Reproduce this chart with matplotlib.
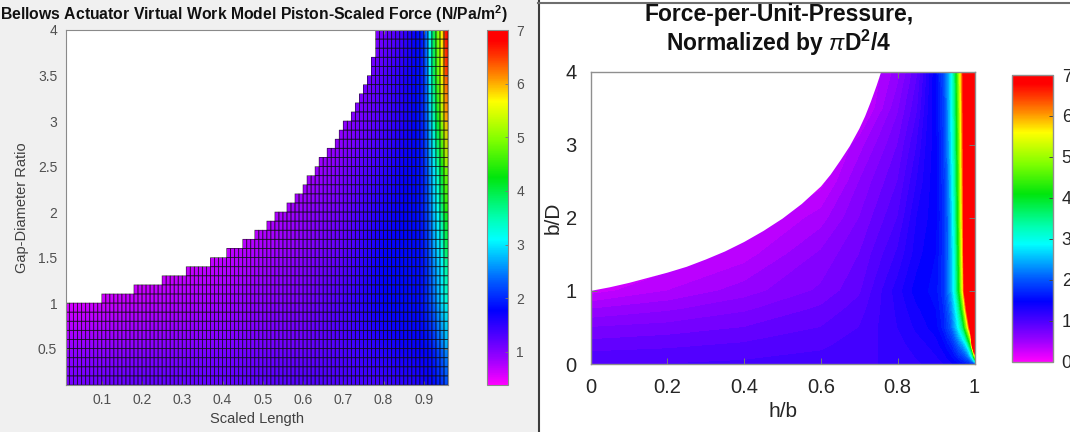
import numpy as np
import matplotlib
matplotlib.use("Agg")
import matplotlib.pyplot as plt
from matplotlib.colors import LinearSegmentedColormap, ListedColormap, Normalize
from matplotlib.cm import ScalarMappable
from matplotlib.patches import Polygon, Rectangle
from matplotlib.lines import Line2D

plt.rcParams['font.family'] = ['Liberation Sans', 'DejaVu Sans']
plt.rcParams['mathtext.fontset'] = 'custom'
plt.rcParams['mathtext.rm'] = 'Liberation Sans'
plt.rcParams['mathtext.it'] = 'Liberation Sans:italic'
plt.rcParams['mathtext.bf'] = 'Liberation Sans:bold'

# ---- colour ramp (position in colour range, RGB) ----
RAMP_POS = [0.0, 0.07, 0.14, 0.21, 0.29, 0.41, 0.47, 0.585, 0.69, 0.80, 0.87, 0.93, 0.97, 1.0]
RAMP_RGB = [(1, 0, 1), (0.62, 0, 1), (0.3, 0, 1), (0, 0, 1), (0, 0.35, 1), (0, 1, 1),
            (0, 1, 0.7), (0, 0.9, 0.05), (0.5, 1, 0), (1, 1, 0), (1, 0.55, 0),
            (1, 0.2, 0), (1, 0, 0), (1, 0, 0)]

# ---- left panel: piston-scaled force sampled over scaled length / gap-diameter ratio ----
LEFT_X = [0.01, 0.2, 0.4, 0.6, 0.7, 0.8, 0.85, 0.88, 0.895, 0.905, 0.915, 0.925, 0.935, 0.945, 0.955, 0.96]
LEFT_Y = [0.1, 0.5, 1.0, 1.5, 2.0, 2.5, 3.0, 3.5, 4.0]
LEFT_F_010 = [1.09, 1.20, 1.20, 1.28, 1.32, 1.38, 1.50, 1.56, 1.60, 1.64, 1.70, 1.80, 1.88, 2.00, 2.13, 2.13]
LEFT_F_050 = [0.90, 0.97, 1.04, 1.14, 1.30, 1.55, 1.68, 1.72, 1.76, 1.80, 1.85, 1.99, 2.18, 2.37, 2.60, 2.60]
LEFT_F_100 = [0.57, 0.71, 0.85, 1.04, 1.32, 1.75, 1.82, 1.82, 1.86, 1.99, 2.18, 2.37, 2.65, 2.93, 3.20, 3.20]
LEFT_F_150 = [0.45, 0.50, 0.68, 0.97, 1.22, 1.75, 1.82, 1.82, 1.86, 1.99, 2.27, 2.60, 2.84, 3.10, 3.70, 3.70]
LEFT_F_200 = [0.45, 0.45, 0.50, 0.90, 1.12, 1.60, 1.76, 1.82, 1.90, 2.08, 2.37, 2.80, 3.10, 3.70, 4.35, 4.35]
LEFT_F_250 = [0.45, 0.45, 0.45, 0.75, 1.04, 1.45, 1.70, 1.80, 1.90, 2.13, 2.60, 2.98, 3.50, 4.26, 5.00, 5.00]
LEFT_F_300 = [0.45, 0.45, 0.45, 0.60, 0.90, 1.32, 1.58, 1.80, 1.95, 2.18, 2.74, 3.40, 4.16, 5.10, 5.96, 5.96]
LEFT_F_350 = [0.45, 0.45, 0.45, 0.50, 0.80, 1.28, 1.56, 1.80, 1.90, 2.27, 3.10, 3.88, 4.73, 5.68, 6.43, 6.43]
LEFT_F_400 = [0.45, 0.45, 0.45, 0.50, 0.70, 1.10, 1.40, 1.80, 1.90, 2.27, 3.10, 3.95, 4.90, 5.70, 6.80, 6.80]
LEFT_CLIM = (0.38, 7.0)
LEFT_CB_TICKS = [1, 2, 3, 4, 5, 6, 7]

# cell grid of the left panel and the first valid scaled length of each row (by row top)
LEFT_CELL_DX = 0.01
LEFT_CELL_DY = 0.1
LEFT_ROW_TOP = [1.1, 1.2, 1.3, 1.4, 1.5, 1.6, 1.7, 1.8, 1.9, 2.0, 2.1, 2.2, 2.3, 2.4, 2.5,
                2.6, 2.7, 2.8, 2.9, 3.0, 3.1, 3.2, 3.3, 3.4, 3.5, 3.6, 3.7, 3.8, 3.9, 4.0]
LEFT_ROW_START = [0.10, 0.18, 0.25, 0.31, 0.37, 0.41, 0.45, 0.48, 0.51, 0.53, 0.56, 0.58, 0.60, 0.61, 0.63,
                  0.64, 0.66, 0.68, 0.69, 0.70, 0.72, 0.73, 0.74, 0.75, 0.76, 0.77, 0.77, 0.78, 0.78, 0.78]
LEFT_XTICKS = [0.1, 0.2, 0.3, 0.4, 0.5, 0.6, 0.7, 0.8, 0.9]
LEFT_YTICKS = [0.5, 1, 1.5, 2, 2.5, 3, 3.5, 4]

# ---- right panel: force per unit pressure over h/b and b/D ----
RIGHT_X = [0.0, 0.2, 0.4, 0.6, 0.7, 0.8, 0.85, 0.88, 0.9, 0.92, 0.93, 0.94, 0.95, 0.96, 0.97, 0.98, 0.99, 1.0]
RIGHT_Y = [0.0, 0.25, 0.5, 0.75, 1.0, 1.5, 2.0, 2.5, 3.0, 3.5, 4.0]
RIGHT_F_000 = [1.00, 1.00, 1.02, 1.05, 1.08, 1.12, 1.18, 1.22, 1.25, 1.30, 1.33, 1.37, 1.42, 1.47, 1.52, 1.58, 1.64, 1.70]
RIGHT_F_025 = [0.85, 0.88, 0.92, 0.98, 1.05, 1.15, 1.25, 1.30, 1.35, 1.45, 1.55, 1.65, 1.85, 2.10, 2.35, 2.80, 4.00, 10.0]
RIGHT_F_050 = [0.70, 0.74, 0.80, 0.90, 1.00, 1.20, 1.32, 1.40, 1.45, 1.65, 1.85, 2.05, 2.45, 2.95, 3.60, 5.00, 7.20, 15.0]
RIGHT_F_075 = [0.50, 0.58, 0.68, 0.82, 0.95, 1.22, 1.38, 1.45, 1.50, 1.70, 1.95, 2.25, 2.75, 3.45, 4.60, 6.70, 11.0, 20.0]
RIGHT_F_100 = [0.25, 0.40, 0.55, 0.72, 0.88, 1.25, 1.45, 1.50, 1.55, 1.78, 2.10, 2.45, 3.10, 4.10, 5.70, 8.50, 13.0, 25.0]
RIGHT_F_150 = [0.20, 0.20, 0.35, 0.62, 0.80, 1.12, 1.35, 1.45, 1.50, 1.76, 2.05, 2.50, 3.15, 4.30, 6.00, 9.00, 14.0, 25.0]
RIGHT_F_200 = [0.20, 0.20, 0.20, 0.45, 0.70, 1.00, 1.30, 1.40, 1.45, 1.74, 2.05, 2.55, 3.30, 4.50, 6.20, 9.50, 14.0, 25.0]
RIGHT_F_250 = [0.20, 0.20, 0.20, 0.25, 0.60, 0.90, 1.20, 1.38, 1.45, 1.78, 2.10, 2.65, 3.40, 4.60, 6.30, 9.50, 15.0, 25.0]
RIGHT_F_300 = [0.20, 0.20, 0.20, 0.20, 0.45, 0.80, 1.10, 1.35, 1.45, 1.82, 2.20, 2.75, 3.50, 4.70, 6.40, 10.0, 15.0, 25.0]
RIGHT_F_350 = [0.20, 0.20, 0.20, 0.20, 0.20, 0.68, 0.98, 1.30, 1.48, 1.86, 2.25, 2.80, 3.60, 4.85, 6.50, 10.0, 15.0, 25.0]
RIGHT_F_400 = [0.20, 0.20, 0.20, 0.20, 0.20, 0.55, 0.88, 1.25, 1.50, 1.92, 2.30, 2.85, 3.70, 5.00, 6.60, 10.0, 15.0, 25.0]
RIGHT_CLIM = (0.0, 7.0)
RIGHT_LEVEL_STEP = 0.1
# geometric limit of the bellows (no solution above this b/D)
BOUND_HB = [0.0, 0.05, 0.1, 0.15, 0.2, 0.25, 0.3, 0.35, 0.4, 0.45, 0.5, 0.55, 0.6,
            0.625, 0.65, 0.675, 0.7, 0.715, 0.73, 0.745, 0.757]
BOUND_BD = [1.0, 1.05, 1.11, 1.18, 1.25, 1.33, 1.43, 1.54, 1.67, 1.82, 1.99, 2.19, 2.43,
            2.59, 2.78, 2.98, 3.22, 3.39, 3.59, 3.81, 4.0]
RIGHT_XTICKS = [0, 0.2, 0.4, 0.6, 0.8, 1]
RIGHT_XTICKLABELS = ['0', '0.2', '0.4', '0.6', '0.8', '1']
RIGHT_YTICKS = [0, 1, 2, 3, 4]
RIGHT_CB_TICKS = [0, 1, 2, 3, 4, 5, 6, 7]

cmap = LinearSegmentedColormap.from_list('force', list(zip(RAMP_POS, RAMP_RGB)), N=512)
cmap.set_over((1, 0, 0))

W, H = 1070, 432
fig = plt.figure(figsize=(W / 100, H / 100), dpi=100, facecolor='white')


def fx(px):
    return px / W


def fy(py):
    return 1 - py / H


def box(x0, y0, x1, y1):
    return [fx(x0), fy(y1), fx(x1) - fx(x0), fy(y0) - fy(y1)]


# window backgrounds and separators
fig.patches.append(Rectangle((0, 0), fx(538), 1, transform=fig.transFigure,
                             facecolor='#f0f0f0', edgecolor='none', zorder=-10))
fig.add_artist(Line2D([fx(538.5)] * 2, [0, 1], color='#3c3c3c', lw=1.5))
fig.add_artist(Line2D([fx(538), 1], [fy(2.5)] * 2, color='#6e6e6e', lw=1.5))

# ================= left panel =================
axL = fig.add_axes(box(65.5, 30, 448, 385))
ZL = np.array([LEFT_F_010, LEFT_F_050, LEFT_F_100, LEFT_F_150, LEFT_F_200,
               LEFT_F_250, LEFT_F_300, LEFT_F_350, LEFT_F_400])
axL.pcolormesh(LEFT_X, LEFT_Y, ZL, shading='gouraud', cmap=cmap,
               vmin=LEFT_CLIM[0], vmax=LEFT_CLIM[1], zorder=1)

x_first, x_last = LEFT_X[0], LEFT_X[-1]
y_first, y_last = LEFT_Y[0], LEFT_Y[-1]

# region outside the geometric limit, following the row starts
verts = [(x_first, LEFT_ROW_TOP[0] - LEFT_CELL_DY)]
for top, start in zip(LEFT_ROW_TOP, LEFT_ROW_START):
    verts += [(start, top - LEFT_CELL_DY), (start, top)]
verts += [(x_first, y_last)]
axL.add_patch(Polygon(verts, closed=True, facecolor='white', edgecolor='none', zorder=2))

# cell outlines
n_cols = int(round((x_last - x_first) / LEFT_CELL_DX))
n_rows = int(round((y_last - y_first) / LEFT_CELL_DY))
xe = x_first + LEFT_CELL_DX * np.arange(n_cols + 1)
ye = y_first + LEFT_CELL_DY * np.arange(n_rows + 1)
row_top = ye[1:]
row_start = np.full(n_rows, x_first)
for top, start in zip(LEFT_ROW_TOP, LEFT_ROW_START):
    row_start[np.isclose(row_top, top)] = start
valid = xe[:-1][None, :] >= row_start[:, None] - 1e-6
cells = np.ma.masked_array(np.zeros((n_rows, n_cols)), mask=~valid)
axL.pcolor(xe, ye, cells, cmap=ListedColormap([(0, 0, 0, 0)]),
           edgecolors=(0.05, 0.05, 0.05, 0.62), linewidth=0.6, antialiased=True, zorder=3)

axL.set_xlim(x_first, x_last)
axL.set_ylim(y_first, y_last)
axL.set_xticks(LEFT_XTICKS)
axL.set_xticklabels([f'{v:g}' for v in LEFT_XTICKS])
axL.set_yticks(LEFT_YTICKS)
axL.set_yticklabels([f'{v:g}' for v in LEFT_YTICKS])
axL.tick_params(direction='in', top=True, right=True, length=3, width=0.6,
                color='#777777', labelcolor='#505050', labelsize=10, pad=6)
for sp in axL.spines.values():
    sp.set_color('#8a8a8a')
    sp.set_linewidth(0.8)
    sp.set_zorder(4)
axL.set_xlabel('Scaled Length', fontsize=10.5, color='#404040', labelpad=3)
axL.set_ylabel('Gap-Diameter Ratio', fontsize=10.5, color='#404040', labelpad=6)
fig.text(fx(253.5), fy(14), r'Bellows Actuator Virtual Work Model Piston-Scaled Force (N/Pa/m$^\mathbf{2}$)',
         ha='center', va='center', fontsize=11.3, fontweight='bold', color='#111111')

caxL = fig.add_axes(box(487, 30, 508, 385))
cbL = fig.colorbar(ScalarMappable(Normalize(*LEFT_CLIM), cmap), cax=caxL, ticks=LEFT_CB_TICKS)
cbL.outline.set_edgecolor('#8a8a8a')
cbL.outline.set_linewidth(0.8)
caxL.tick_params(direction='in', length=2, width=0.6, color='#777777',
                 labelcolor='#505050', labelsize=10, pad=6)

# ================= right panel =================
axR = fig.add_axes(box(590.7, 71.7, 974.5, 364))
ZR = np.array([RIGHT_F_000, RIGHT_F_025, RIGHT_F_050, RIGHT_F_075, RIGHT_F_100, RIGHT_F_150,
               RIGHT_F_200, RIGHT_F_250, RIGHT_F_300, RIGHT_F_350, RIGHT_F_400])
levels = np.arange(RIGHT_CLIM[0], RIGHT_CLIM[1] + RIGHT_LEVEL_STEP / 2, RIGHT_LEVEL_STEP)
axR.contourf(RIGHT_X, RIGHT_Y, ZR, levels=levels, cmap=cmap, extend='max',
             vmin=RIGHT_CLIM[0], vmax=RIGHT_CLIM[1], zorder=1)
axR.fill_between(BOUND_HB, BOUND_BD, RIGHT_Y[-1], facecolor='white', edgecolor='none',
                 lw=0, zorder=2)
axR.set_xlim(RIGHT_X[0], RIGHT_X[-1])
axR.set_ylim(RIGHT_Y[0], RIGHT_Y[-1])
axR.set_xticks(RIGHT_XTICKS)
axR.set_xticklabels(RIGHT_XTICKLABELS)
axR.set_yticks(RIGHT_YTICKS)
axR.tick_params(direction='in', top=True, right=True, length=4, width=0.7,
                color='#777777', labelcolor='#262626', labelsize=14.5, pad=10)
for sp in axR.spines.values():
    sp.set_color('#8f8f8f')
    sp.set_linewidth(1.0)
    sp.set_zorder(4)
axR.set_xlabel('h/b', fontsize=15, color='#262626', labelpad=4)
axR.set_ylabel('b/D', fontsize=15, color='#262626', labelpad=2)
fig.text(fx(779), fy(15), 'Force-per-Unit-Pressure,', ha='center', va='center',
         fontsize=16.5, fontweight='bold', color='#111111')
fig.text(fx(779), fy(43), r'Normalized by $\pi\mathbf{D}^\mathbf{2}$/4', ha='center', va='center',
         fontsize=16.5, fontweight='bold', color='#111111')

caxR = fig.add_axes(box(1011.7, 75, 1053.3, 361.7))
cbR = fig.colorbar(ScalarMappable(Normalize(*RIGHT_CLIM), cmap), cax=caxR, ticks=RIGHT_CB_TICKS)
cbR.outline.set_edgecolor('#8f8f8f')
cbR.outline.set_linewidth(1.0)
caxR.tick_params(direction='in', length=3, width=0.7, color='#444444',
                 labelcolor='#262626', labelsize=13, pad=6)

fig.savefig('out.png', dpi=100, facecolor=fig.get_facecolor())
